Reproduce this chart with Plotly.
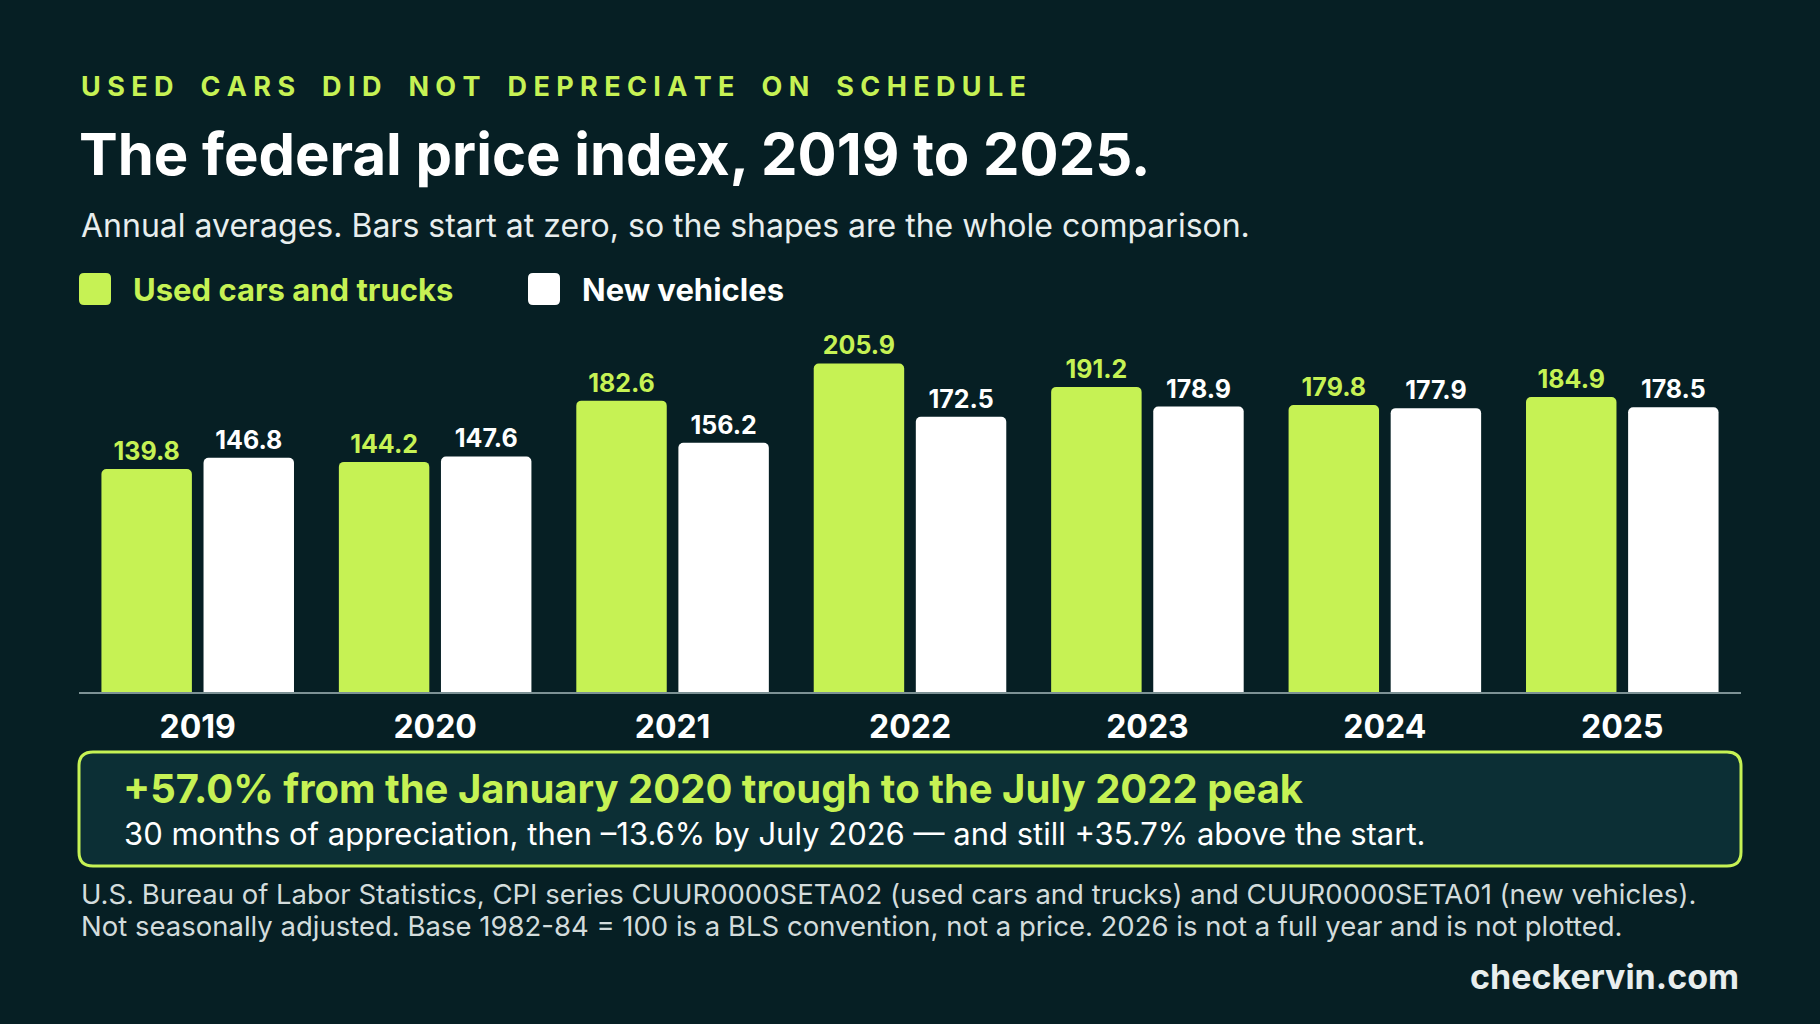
import plotly.graph_objects as go

years = ["2019", "2020", "2021", "2022", "2023", "2024", "2025"]
used_cars = [139.8, 144.2, 182.6, 205.9, 191.2, 179.8, 184.9]
new_vehicles = [146.8, 147.6, 156.2, 172.5, 178.9, 177.9, 178.5]
series_names = ["Used cars and trucks", "New vehicles"]

W, H = 1820, 1024
BG = "#061f24"
GREEN = "#c6f254"
WHITE = "#ffffff"
FONT = "Inter"


def px(x):
    return x / W


def py(y):
    return 1 - y / H


def rounded_path(x0, y0, x1, y1, r):
    # pixel box -> paper path with rounded corners
    pts = [
        f"M {px(x0 + r)} {py(y0)}",
        f"L {px(x1 - r)} {py(y0)}",
        f"Q {px(x1)} {py(y0)} {px(x1)} {py(y0 + r)}",
        f"L {px(x1)} {py(y1 - r)}",
        f"Q {px(x1)} {py(y1)} {px(x1 - r)} {py(y1)}",
        f"L {px(x0 + r)} {py(y1)}",
        f"Q {px(x0)} {py(y1)} {px(x0)} {py(y1 - r)}",
        f"L {px(x0)} {py(y0 + r)}",
        f"Q {px(x0)} {py(y0)} {px(x0 + r)} {py(y0)}",
        "Z",
    ]
    return " ".join(pts)


def spaced(s):
    # fake letter-spacing for the kicker
    return "\u2003".join("\u2009\u200a".join(w) for w in s.split(" "))


fig = go.Figure()
for name, vals, col in [(series_names[0], used_cars, GREEN), (series_names[1], new_vehicles, WHITE)]:
    fig.add_trace(go.Bar(
        x=years, y=vals, name=name,
        marker=dict(color=col, line_width=0, cornerradius=5),
        text=[f"{v:.1f}" for v in vals], textposition="outside",
        textfont=dict(family=FONT, size=25, color=col, weight="bold"),
        cliponaxis=False,
    ))

fig.update_layout(
    width=W, height=H,
    margin=dict(l=0, r=0, t=0, b=0),
    paper_bgcolor=BG, plot_bgcolor=BG,
    barmode="group", bargap=0.14, bargroupgap=0.114,
    showlegend=False,
    xaxis=dict(domain=[px(79), px(1741)], showgrid=False, zeroline=False,
               showline=True, linecolor="#7d9295", linewidth=2,
               tickfont=dict(family=FONT, size=32, color=WHITE, weight="bold"),
               ticks="", ticklabelstandoff=6),
    yaxis=dict(domain=[py(692), py(325)], range=[0, 230], visible=False),
)

shapes = []
annotations = []

# header
annotations.append(dict(x=px(79), y=py(86), text=spaced("USED CARS DID NOT DEPRECIATE ON SCHEDULE"),
                        font=dict(family=FONT, size=27, color=GREEN, weight="bold"),
                        xanchor="left", yanchor="middle"))
annotations.append(dict(x=px(77), y=py(154), text="The federal price index, 2019 to 2025.",
                        font=dict(family=FONT, size=58, color=WHITE, weight="bold"),
                        xanchor="left", yanchor="middle"))
annotations.append(dict(x=px(79), y=py(225), text="Annual averages. Bars start at zero, so the shapes are the whole comparison.",
                        font=dict(family=FONT, size=32, color="#e8eeee"),
                        xanchor="left", yanchor="middle"))

# legend
for (sx, tx), name, col in zip([(79, 131), (528, 580)], series_names, [GREEN, WHITE]):
    shapes.append(dict(type="path", xref="paper", yref="paper", path=rounded_path(sx, 273, sx + 32, 305, 5),
                       fillcolor=col, line_width=0))
    annotations.append(dict(x=px(tx), y=py(289), text=name,
                            font=dict(family=FONT, size=31, color=col, weight="bold"),
                            xanchor="left", yanchor="middle"))

# callout box
shapes.append(dict(type="path", xref="paper", yref="paper", path=rounded_path(79, 752, 1741, 866, 14),
                   fillcolor="#0c2f35", line=dict(color=GREEN, width=3)))
annotations.append(dict(x=px(121), y=py(788), text="+57.0% from the January 2020 trough to the July 2022 peak",
                        font=dict(family=FONT, size=40, color=GREEN, weight="bold"),
                        xanchor="left", yanchor="middle"))
annotations.append(dict(x=px(122), y=py(833), text="30 months of appreciation, then \u201313.6% by July 2026 \u2014 and still +35.7% above the start.",
                        font=dict(family=FONT, size=31, color=WHITE),
                        xanchor="left", yanchor="middle"))

# footnote
annotations.append(dict(x=px(79), y=py(894), text="U.S. Bureau of Labor Statistics, CPI series CUUR0000SETA02 (used cars and trucks) and CUUR0000SETA01 (new vehicles).",
                        font=dict(family=FONT, size=27.5, color="#d3dcdc"), xanchor="left", yanchor="middle"))
annotations.append(dict(x=px(79), y=py(926), text="Not seasonally adjusted. Base 1982-84 = 100 is a BLS convention, not a price. 2026 is not a full year and is not plotted.",
                        font=dict(family=FONT, size=27.5, color="#d3dcdc"), xanchor="left", yanchor="middle"))
annotations.append(dict(x=px(1741), y=py(976), text="checkervin.com",
                        font=dict(family=FONT, size=34, color="#e8eeee", weight="bold"), xanchor="right", yanchor="middle"))

for a in annotations:
    a.update(xref="paper", yref="paper", showarrow=False)
fig.update_layout(shapes=shapes, annotations=annotations)

fig.write_html("out.html", config={"displayModeBar": False},
               post_script="document.body.style.margin='0';document.body.style.background='#061f24';")
